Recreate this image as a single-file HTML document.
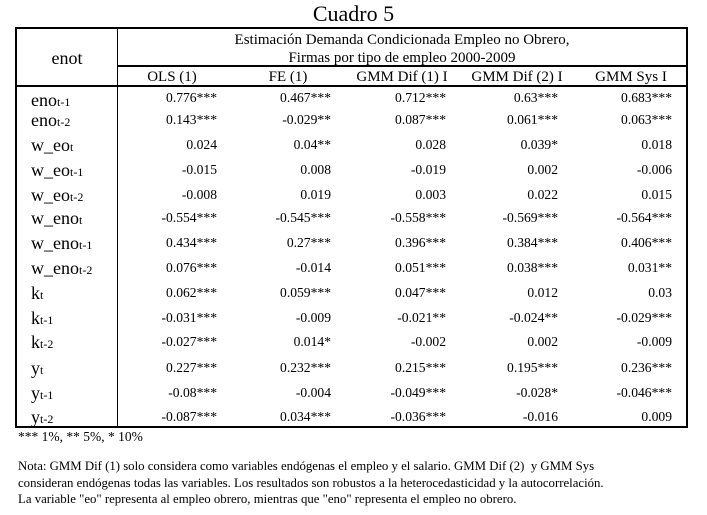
<!DOCTYPE html>
<html><head><meta charset="utf-8"><style>
body{margin:0;background:#fff;}
#c{position:relative;width:707px;height:515px;overflow:hidden;font-family:"Liberation Serif",serif;color:#000;}
.a{position:absolute;white-space:nowrap;}
.ln{position:absolute;background:#000;}
.lb{position:absolute;left:31px;height:20px;line-height:20px;font-size:18px;}
.lb small{font-size:12px;}
.n{position:absolute;height:16px;line-height:16px;font-size:13.6px;text-align:right;width:120px;}
.h{position:absolute;top:68px;height:18px;line-height:18px;font-size:15px;text-align:center;width:130px;}
</style></head><body><div id="c">
<div class="a" style="left:0;width:707px;text-align:center;top:1px;font-size:22px;line-height:26px;">Cuadro 5</div>
<div class="ln" style="left:15px;top:27px;width:673px;height:2px"></div>
<div class="ln" style="left:15px;top:426px;width:673px;height:2px"></div>
<div class="ln" style="left:15px;top:27px;width:2px;height:401px"></div>
<div class="ln" style="left:686px;top:27px;width:2px;height:401px"></div>
<div class="ln" style="left:117px;top:27px;width:1px;height:400px"></div>
<div class="ln" style="left:117px;top:65px;width:570px;height:2px"></div>
<div class="ln" style="left:15px;top:85px;width:673px;height:2px"></div>
<div class="a" style="left:117px;width:570px;text-align:center;top:31px;font-size:15px;line-height:18px">Estimación Demanda Condicionada Empleo no Obrero,</div>
<div class="a" style="left:117px;width:570px;text-align:center;top:49px;font-size:15px;line-height:18px">Firmas por tipo de empleo 2000-2009</div>
<div class="a" style="left:17px;width:100px;text-align:center;top:47px;font-size:18px;line-height:22px">enot</div>
<div class="h" style="left:107px">OLS (1)</div>
<div class="h" style="left:223px">FE (1)</div>
<div class="h" style="left:337px">GMM Dif (1) I</div>
<div class="h" style="left:452px">GMM Dif (2) I</div>
<div class="h" style="left:566px">GMM Sys I</div>

<div class="lb" style="top:90px">eno<small>t-1</small></div>
<div class="lb" style="top:110px">eno<small>t-2</small></div>
<div class="lb" style="top:135px">w_eo<small>t</small></div>
<div class="lb" style="top:160px">w_eo<small>t-1</small></div>
<div class="lb" style="top:185px">w_eo<small>t-2</small></div>
<div class="lb" style="top:208px">w_eno<small>t</small></div>
<div class="lb" style="top:233px">w_eno<small>t-1</small></div>
<div class="lb" style="top:258px">w_eno<small>t-2</small></div>
<div class="lb" style="top:283px">k<small>t</small></div>
<div class="lb" style="top:308px">k<small>t-1</small></div>
<div class="lb" style="top:332px">k<small>t-2</small></div>
<div class="lb" style="top:358px">y<small>t</small></div>
<div class="lb" style="top:383px">y<small>t-1</small></div>
<div class="lb" style="top:407px">y<small>t-2</small></div>

<div id="nums"></div>
<script>
var rows=[[98,"0.776***","0.467***","0.712***","0.63***","0.683***"],
[120,"0.143***","-0.029**","0.087***","0.061***","0.063***"],
[145,"0.024","0.04**","0.028","0.039*","0.018"],
[170,"-0.015","0.008","-0.019","0.002","-0.006"],
[195,"-0.008","0.019","0.003","0.022","0.015"],
[218,"-0.554***","-0.545***","-0.558***","-0.569***","-0.564***"],
[243,"0.434***","0.27***","0.396***","0.384***","0.406***"],
[268,"0.076***","-0.014","0.051***","0.038***","0.031**"],
[293,"0.062***","0.059***","0.047***","0.012","0.03"],
[318,"-0.031***","-0.009","-0.021**","-0.024**","-0.029***"],
[342,"-0.027***","0.014*","-0.002","0.002","-0.009"],
[368,"0.227***","0.232***","0.215***","0.195***","0.236***"],
[393,"-0.08***","-0.004","-0.049***","-0.028*","-0.046***"],
[417,"-0.087***","0.034***","-0.036***","-0.016","0.009"]];
var rx=[217,331,446,558,672],h="";
rows.forEach(function(r){for(var i=0;i<5;i++){h+='<div class="n" style="top:'+(r[0]-8)+'px;left:'+(rx[i]-120)+'px">'+r[i+1]+'</div>';}});
document.getElementById("nums").innerHTML=h;
</script>
<div class="a" style="left:18px;top:429px;font-size:13.5px;line-height:16px">*** 1%, ** 5%, * 10%</div>
<div class="a" style="left:18px;top:458px;font-size:12.8px;line-height:16.5px">Nota: GMM Dif (1) solo considera como variables endógenas el empleo y el salario. GMM Dif (2)&nbsp; y GMM Sys<br>consideran endógenas todas las variables. Los resultados son robustos a la heterocedasticidad y la autocorrelación.<br>La variable "eo" representa al empleo obrero, mientras que "eno" representa el empleo no obrero.</div>
</div></body></html>
